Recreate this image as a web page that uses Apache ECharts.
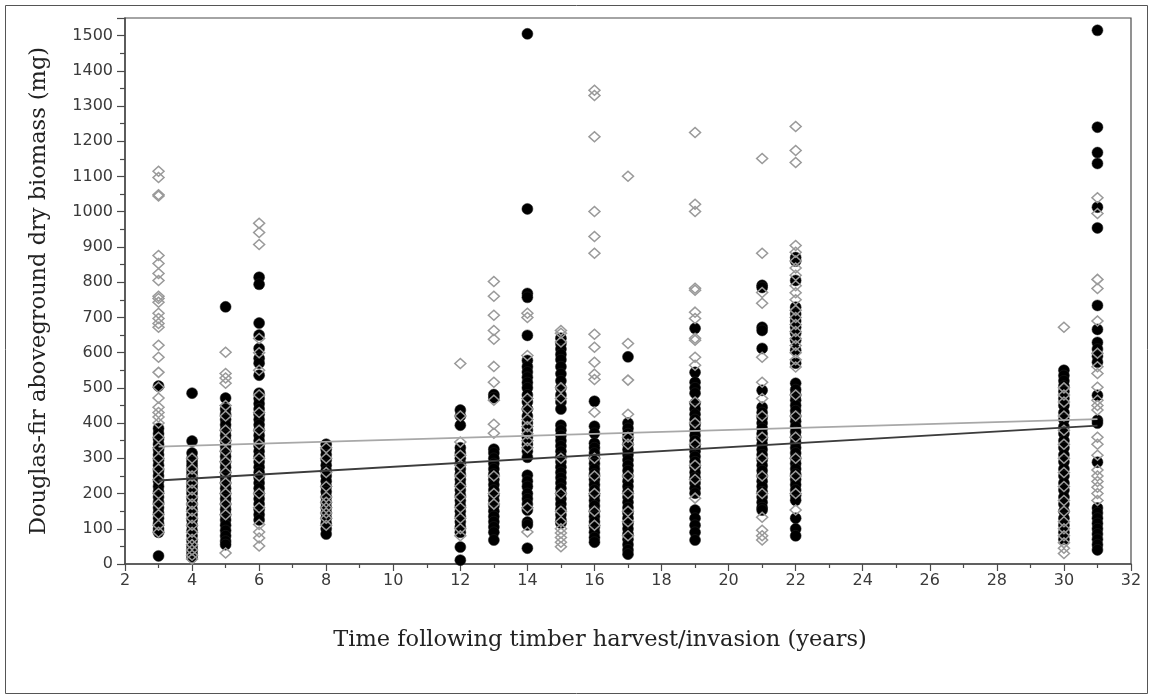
<!DOCTYPE html>
<html>
<head>
<meta charset="utf-8">
<script src="https://cdn.jsdelivr.net/npm/echarts@6/dist/echarts.min.js"></script>
<style>
html,body{margin:0;padding:0;background:#fff;}
#c{width:1153px;height:698px;}
</style>
</head>
<body>
<div id="c"></div>
<script>
// ---- Data ----
const years = [3, 4, 5, 6, 8, 12, 13, 14, 15, 16, 17, 19, 21, 22, 30, 31];

// Black filled circles, values (mg) per year
const black3 = [505, 385, 370, 355, 340, 325, 310, 295, 280, 265, 250, 235, 220, 205, 190, 175, 160, 145, 130, 115, 100, 90, 23];
const black4 = [485, 349, 315, 300, 290, 280, 270, 260, 250, 240, 230, 220, 210, 200, 185, 170, 155, 140, 125, 110, 95, 80, 65, 50, 40, 30, 20];
const black5 = [730, 471, 440, 425, 410, 395, 380, 365, 350, 335, 320, 305, 290, 275, 260, 245, 230, 215, 200, 185, 170, 155, 140, 125, 110, 95, 80, 65, 55];
const black6 = [814, 794, 684, 650, 612, 584, 570, 536, 485, 470, 455, 440, 425, 410, 395, 380, 365, 350, 335, 320, 305, 290, 275, 260, 245, 230, 215, 200, 185, 170, 155, 140, 125];
const black8 = [340, 325, 310, 295, 280, 265, 250, 235, 220, 205, 190, 175, 160, 145, 130, 115, 100, 85];
const black12 = [437, 420, 394, 330, 315, 300, 285, 270, 255, 240, 225, 210, 195, 180, 165, 150, 135, 120, 105, 90, 48, 11];
const black13 = [481, 472, 326, 315, 300, 285, 270, 255, 240, 225, 210, 195, 180, 165, 150, 135, 120, 105, 90, 68];
const black14 = [1505, 1008, 768, 757, 649, 578, 560, 545, 530, 515, 500, 480, 460, 440, 420, 400, 380, 360, 340, 320, 303, 252, 235, 220, 200, 185, 170, 153, 119, 111, 45];
const black15 = [641, 625, 610, 595, 580, 560, 540, 520, 500, 480, 460, 440, 394, 380, 365, 350, 335, 320, 305, 290, 275, 260, 245, 230, 215, 200, 185, 170, 155, 140, 125, 116];
const black16 = [462, 391, 371, 343, 330, 315, 300, 285, 270, 255, 240, 225, 210, 195, 180, 165, 150, 135, 120, 105, 90, 75, 62];
const black17 = [588, 400, 385, 370, 355, 340, 325, 310, 295, 280, 265, 250, 235, 220, 205, 190, 175, 160, 145, 130, 115, 100, 85, 70, 55, 40, 28];
const black19 = [669, 544, 516, 500, 485, 456, 440, 425, 410, 395, 380, 365, 350, 335, 320, 305, 290, 275, 260, 245, 230, 215, 201, 153, 130, 110, 90, 68];
const black21 = [791, 785, 672, 663, 612, 493, 445, 430, 415, 400, 385, 370, 355, 340, 325, 310, 295, 280, 265, 250, 235, 220, 205, 190, 175, 160, 153];
const black22 = [870, 860, 805, 729, 710, 690, 672, 655, 635, 607, 570, 513, 495, 480, 465, 450, 435, 420, 405, 390, 375, 360, 345, 330, 315, 300, 285, 270, 255, 240, 225, 210, 195, 181, 130, 100, 80];
const black30 = [550, 535, 520, 505, 490, 470, 450, 430, 410, 390, 370, 350, 330, 310, 290, 270, 250, 230, 210, 190, 170, 150, 130, 110, 90, 70];
const black31 = [1515, 1240, 1168, 1137, 1013, 954, 734, 666, 629, 610, 590, 573, 479, 408, 400, 289, 159, 145, 130, 115, 100, 85, 70, 55, 40];

// Gray open diamonds, values (mg) per year
const gray3 = [1115, 1097, 1048, 1045, 876, 853, 825, 805, 760, 754, 743, 712, 697, 683, 672, 621, 587, 544, 502, 471, 445, 430, 417, 400, 360, 330, 300, 270, 240, 200, 170, 140, 110, 90];
const gray4 = [300, 270, 250, 230, 210, 190, 170, 150, 130, 110, 90, 70, 55, 40, 25, 14];
const gray5 = [601, 541, 528, 513, 450, 420, 380, 350, 320, 290, 260, 230, 200, 170, 140, 31];
const gray6 = [967, 941, 907, 640, 600, 550, 480, 430, 380, 340, 300, 250, 200, 160, 112, 91, 74, 51];
const gray8 = [330, 300, 260, 220, 190, 175, 160, 145, 130, 110];
const gray12 = [569, 420, 346, 309, 280, 250, 220, 190, 160, 130, 100, 80];
const gray13 = [802, 760, 706, 663, 638, 561, 516, 465, 397, 371, 250, 200, 170];
const gray14 = [712, 700, 592, 470, 440, 410, 390, 370, 350, 330, 160, 91];
const gray15 = [663, 655, 630, 500, 470, 300, 200, 150, 120, 100, 88, 75, 62, 49];
const gray16 = [1345, 1330, 1213, 1001, 930, 882, 652, 615, 573, 539, 524, 431, 300, 250, 200, 150, 110];
const gray17 = [1101, 626, 522, 425, 360, 340, 250, 200, 150, 120, 80];
const gray19 = [1225, 1021, 1001, 783, 777, 715, 697, 641, 635, 587, 564, 460, 400, 340, 280, 240, 187];
const gray21 = [1151, 882, 771, 740, 587, 516, 470, 420, 360, 300, 250, 200, 133, 96, 80, 68];
const gray22 = [1242, 1174, 1140, 904, 885, 860, 840, 820, 790, 770, 750, 720, 700, 680, 660, 640, 620, 600, 580, 559, 480, 420, 360, 300, 250, 200, 153];
const gray30 = [672, 500, 480, 460, 420, 380, 340, 300, 260, 220, 180, 150, 120, 100, 80, 60, 45, 30];
const gray31 = [1040, 995, 808, 782, 690, 598, 560, 541, 502, 465, 450, 437, 360, 340, 309, 267, 250, 234, 218, 200, 180];

// Fitted trend lines (endpoints at first and last year)
const trendYears = [3, 31];
const grayTrend = [333, 411];
const blackTrend = [237, 393];

// Axis ticks
const xTicks = [2, 4, 6, 8, 10, 12, 14, 16, 18, 20, 22, 24, 26, 28, 30, 32];
const yTicks = [0, 100, 200, 300, 400, 500, 600, 700, 800, 900, 1000, 1100, 1200, 1300, 1400, 1500];

const xTitle = 'Time following timber harvest/invasion (years)';
const yTitle = 'Douglas-fir aboveground dry biomass (mg)';

// ---- Build point lists ----
const blackCols = [black3, black4, black5, black6, black8, black12, black13, black14, black15, black16, black17, black19, black21, black22, black30, black31];
const grayCols = [gray3, gray4, gray5, gray6, gray8, gray12, gray13, gray14, gray15, gray16, gray17, gray19, gray21, gray22, gray30, gray31];
const blackPts = [], grayPts = [];
years.forEach((yr, i) => {
  blackCols[i].forEach(v => blackPts.push([yr, v]));
  grayCols[i].forEach(v => grayPts.push([yr, v]));
});
const grayLine = trendYears.map((x, i) => [x, grayTrend[i]]);
const blackLine = trendYears.map((x, i) => [x, blackTrend[i]]);

const chart = echarts.init(document.getElementById('c'), null, {renderer: 'canvas'});
const labelFont = {fontFamily: 'DejaVu Sans', fontSize: 16, color: '#3a3a3a'};
const axisCol = '#4a4a4a';

chart.setOption({
  animation: false,
  backgroundColor: '#fff',
  graphic: [{
    type: 'rect', shape: {x: 5.5, y: 5.5, width: 1142, height: 688},
    style: {fill: 'none', stroke: '#555', lineWidth: 1}, z: -1
  }],
  grid: {left: 125, right: 22, top: 18, bottom: 134, show: true, borderColor: axisCol, borderWidth: 1.2, backgroundColor: 'transparent'},
  xAxis: {
    type: 'value', min: xTicks[0], max: xTicks[xTicks.length - 1], interval: 2,
    name: xTitle, nameLocation: 'middle', nameGap: 65,
    nameTextStyle: {fontFamily: 'DejaVu Serif', fontSize: 22.5, color: '#222', padding: [0, 56, 0, 0]},
    axisLine: {show: true, lineStyle: {color: axisCol, width: 1.5}},
    axisTick: {show: true, inside: false, length: 7, lineStyle: {color: axisCol, width: 1.2}},
    minorTick: {show: true, splitNumber: 2, length: 4, lineStyle: {color: axisCol, width: 1.2}},
    splitLine: {show: false},
    axisLabel: Object.assign({margin: 9}, labelFont)
  },
  yAxis: {
    type: 'value', min: yTicks[0], max: 1550, interval: 100,
    name: yTitle, nameLocation: 'middle', nameGap: 74, nameRotate: 90,
    nameTextStyle: {fontFamily: 'DejaVu Serif', fontSize: 22.5, color: '#222'},
    axisLine: {show: true, lineStyle: {color: axisCol, width: 1.5}},
    axisTick: {show: true, inside: false, length: 8, lineStyle: {color: axisCol, width: 1.2}},
    minorTick: {show: true, splitNumber: 2, length: 5, lineStyle: {color: axisCol, width: 1.2}},
    splitLine: {show: false},
    axisLabel: Object.assign({margin: 12, showMaxLabel: false,
      formatter: v => (yTicks.indexOf(v) >= 0 ? String(v) : '')}, labelFont)
  },
  series: [
    {
      type: 'scatter', name: 'black', data: blackPts, symbol: 'circle', symbolSize: 11,
      itemStyle: {color: '#000', opacity: 1, borderColor: '#222', borderWidth: 0.5}, z: 2
    },
    {
      type: 'scatter', name: 'gray', data: grayPts, symbol: 'diamond', symbolSize: [11, 10],
      itemStyle: {color: 'rgba(255,255,255,0)', opacity: 1, borderColor: '#9a9a9a', borderWidth: 1.5}, z: 3
    },
    {
      type: 'line', data: grayLine, symbol: 'none', lineStyle: {color: '#a8a8a8', width: 1.8}, z: 4
    },
    {
      type: 'line', data: blackLine, symbol: 'none', lineStyle: {color: '#3c3c3c', width: 1.8}, z: 4
    }
  ]
});
</script>
</body>
</html>
